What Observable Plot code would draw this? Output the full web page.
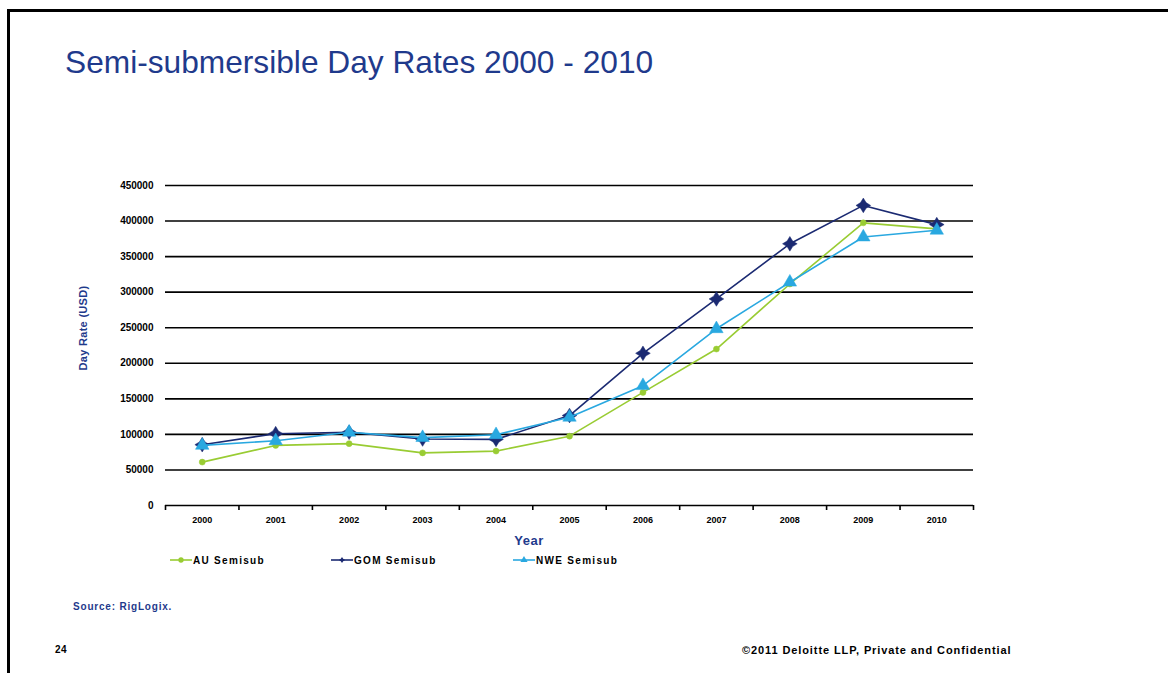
<!DOCTYPE html>
<html>
<head>
<meta charset="utf-8">
<script src="https://cdn.jsdelivr.net/npm/d3@7"></script>
<script src="https://cdn.jsdelivr.net/npm/@observablehq/plot@0.6"></script>
<style>
  html, body { margin: 0; padding: 0; background: #fff; }
  #page { position: relative; width: 1168px; height: 673px; overflow: hidden; font-family: "Liberation Sans", Arial, sans-serif; }
  #frame { position: absolute; left: 7px; top: 9px; right: -5px; bottom: -5px; border-top: 3px solid #000; border-left: 3px solid #000; }
  #title { position: absolute; left: 65px; top: 44px; font-family: "Liberation Sans", Arial, sans-serif; font-size: 32px; color: #1f3a8c; white-space: nowrap; transform-origin: left top; transform: scaleX(0.99); }
  #chart { position: absolute; left: 0; top: 160px; }
  .lbl { position: absolute; font-weight: bold; white-space: nowrap; }
  #ylab { left: 83px; top: 328px; transform: translate(-50%, -50%) rotate(-90deg); font-size: 11px; letter-spacing: 0.3px; color: #1f3a8c; }
  #xlab { left: 529px; top: 540px; transform: translate(-50%, -50%); font-size: 13px; letter-spacing: 0.5px; color: #1f3a8c; }
  #legend { position: absolute; top: 552px; left: 0; height: 16px; }
  .item { position: absolute; top: 0; display: flex; align-items: center; font-size: 10px; font-weight: bold; letter-spacing: 1.3px; color: #000; white-space: nowrap; }
  .item svg { display: block; }
  #source { left: 73px; top: 601px; font-size: 10px; letter-spacing: 0.8px; color: #1f3a8c; }
  #page-no { left: 55px; top: 644px; font-size: 10px; letter-spacing: 0.5px; color: #000; }
  #copy { left: 742px; top: 644px; font-size: 11px; letter-spacing: 0.9px; color: #000; }
</style>
</head>
<body>
<div id="page">
  <div id="frame"></div>
  <div id="title">Semi-submersible Day Rates 2000 - 2010</div>
  <div id="chart"></div>
  <div class="lbl" id="ylab">Day Rate (USD)</div>
  <div class="lbl" id="xlab">Year</div>
  <div id="legend"></div>
  <div class="lbl" id="source">Source: RigLogix.</div>
  <div class="lbl" id="page-no">24</div>
  <div class="lbl" id="copy">©2011 Deloitte LLP, Private and Confidential</div>
</div>
<script>
// Years on the x axis
const years = [2000, 2001, 2002, 2003, 2004, 2005, 2006, 2007, 2008, 2009, 2010];

// Average semi-submersible day rates (USD) by region
const auSemisub  = [61000, 84500, 87000, 74000, 76500, 97500, 159000, 220000, 311500, 397500, 389000];
const gomSemisub = [85500, 101000, 103000, 93500, 93000, 126500, 214000, 290500, 368000, 422000, 395000];
const nweSemisub = [84500, 91000, 103000, 95500, 99500, 124000, 168500, 248500, 314000, 377500, 387000];

// Y axis ticks
const yTicks = [0, 50000, 100000, 150000, 200000, 250000, 300000, 350000, 400000, 450000];

const seriesNames = ["AU Semisub", "GOM Semisub", "NWE Semisub"];
const seriesValues = [auSemisub, gomSemisub, nweSemisub];
const seriesColors = ["#99cc33", "#1b2a72", "#29a8e0"];

// Four-pointed star marker
const star4 = {
  draw(context, size) {
    const r = Math.sqrt(size) * 0.9;
    const k = r * 0.38;
    context.moveTo(0, -r);
    context.lineTo(k, -k);
    context.lineTo(r, 0);
    context.lineTo(k, k);
    context.lineTo(0, r);
    context.lineTo(-k, k);
    context.lineTo(-r, 0);
    context.lineTo(-k, -k);
    context.closePath();
  }
};
const seriesSymbols = ["circle", star4, "triangle"];
const seriesSizes = [3, 4.6, 5];

const rows = seriesNames.flatMap((name, s) =>
  years.map((year, i) => ({series: name, year, rate: seriesValues[s][i]}))
);
const boundaries = years.concat([years[years.length - 1] + 1]).map(y => y - 0.5);

const font = `"Liberation Sans", Arial, sans-serif`;

const chart = Plot.plot({
  width: 1000,
  height: 375,
  marginTop: 25,
  marginBottom: 30,
  marginLeft: 165,
  marginRight: 27,
  style: {fontFamily: font, fontSize: "10px", fontWeight: "bold", color: "#000", background: "transparent"},
  x: {type: "linear", domain: [boundaries[0], boundaries[boundaries.length - 1]]},
  y: {domain: [0, 450000]},
  marks: [
    Plot.ruleY(yTicks.slice(1), {stroke: "#000", strokeWidth: 1.6}),
    Plot.ruleY([0], {stroke: "#000", strokeWidth: 1.6}),
    Plot.axisY({ticks: yTicks, tickSize: 0, tickPadding: 12, tickFormat: d => String(d), label: null, fontSize: 10, style: {letterSpacing: "1.6px"}}),
    Plot.axisX({ticks: boundaries, tickSize: 5, tickFormat: () => "", label: null, stroke: "#000", strokeWidth: 1.6}),
    Plot.axisX({ticks: years, tickSize: 0, tickPadding: 11, tickFormat: d => String(d), label: null, fontSize: 9, style: {letterSpacing: "1.3px"}}),
    ...seriesNames.map((name, s) => [
      Plot.line(rows.filter(r => r.series === name), {x: "year", y: "rate", stroke: seriesColors[s], strokeWidth: 1.6}),
      Plot.dot(rows.filter(r => r.series === name), {x: "year", y: "rate", fill: seriesColors[s], stroke: seriesColors[s], strokeWidth: 0.5, symbol: seriesSymbols[s], r: seriesSizes[s]})
    ])
  ]
});
document.getElementById("chart").appendChild(chart);

// Legend entries: line with marker, then the series name
const legendLeft = [170, 331, 513];
const legend = document.getElementById("legend");
seriesNames.forEach((name, s) => {
  const item = document.createElement("div");
  item.className = "item";
  item.style.left = legendLeft[s] + "px";
  const svg = d3.create("svg").attr("width", 22).attr("height", 16);
  svg.append("line").attr("x1", 0).attr("x2", 22).attr("y1", 8).attr("y2", 8)
    .attr("stroke", seriesColors[s]).attr("stroke-width", 1.6);
  const sym = typeof seriesSymbols[s] === "string"
    ? (seriesSymbols[s] === "circle" ? d3.symbolCircle : d3.symbolTriangle)
    : seriesSymbols[s];
  const sz = s === 0 ? 22 : s === 1 ? 12 : 22;
  svg.append("path").attr("d", d3.symbol(sym, sz)()).attr("transform", "translate(11,8)")
    .attr("fill", seriesColors[s]);
  item.appendChild(svg.node());
  const t = document.createElement("span");
  t.textContent = name;
  t.style.marginLeft = "1px";
  item.appendChild(t);
  legend.appendChild(item);
});
</script>
</body>
</html>
